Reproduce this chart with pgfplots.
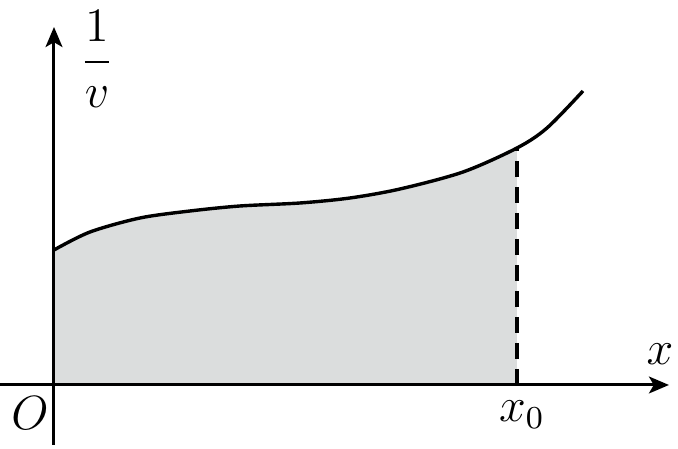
\documentclass[border=0pt]{standalone}
\usepackage{amsmath}
\usepackage{pgfplots}
\pgfplotsset{compat=1.18}
\usetikzlibrary{arrows.meta}
\definecolor{areagray}{RGB}{219,221,221}

\begin{document}
\begin{tikzpicture}
\begin{axis}[
    scale only axis,
    width=169.5pt, height=112.25pt,
    xmin=-54, xmax=624,
    ymin=-64, ymax=385,
    axis lines=none,
    clip=false,
]
% shaded area under the curve up to x0
\addplot[fill=areagray, draw=none, smooth] coordinates {
    (0,135) (36,153) (86,167) (136,174) (186,179) (246,182)
    (296,187) (346,196) (409,213) (463,237)
} \closedcycle;

% curve 1/v
\addplot[black, line width=0.85pt, smooth] coordinates {
    (0,135) (36,153) (86,167) (136,174) (186,179) (246,182)
    (296,187) (346,196) (409,213) (463,237) (493,257) (529,294)
};

% dashed line at x0
\addplot[black, line width=0.8pt, dash pattern=on 4pt off 2.5pt] coordinates {(463,0) (463,237)};

% axes
\draw[line width=0.75pt, -{Stealth[length=5pt, width=4.2pt, inset=1.2pt]}] (axis cs:-54,0) -- (axis cs:615,0);
\draw[line width=0.75pt, -{Stealth[length=5pt, width=4.2pt, inset=1.2pt]}] (axis cs:0,-60) -- (axis cs:0,358);

\begin{scope}[every node/.style={inner sep=0pt, font=\fontsize{12}{14}\selectfont}]
\node at (axis cs:43,326) {$\dfrac{1}{v}$};
\node at (axis cs:606,31) {$x$};
\node at (axis cs:-24,-28) {$O$};
\node at (axis cs:468,-30) {$x_0$};
\end{scope}
\end{axis}
\pgfresetboundingbox
\path (current axis.south west) rectangle (current axis.north east);
\end{tikzpicture}
\end{document}
